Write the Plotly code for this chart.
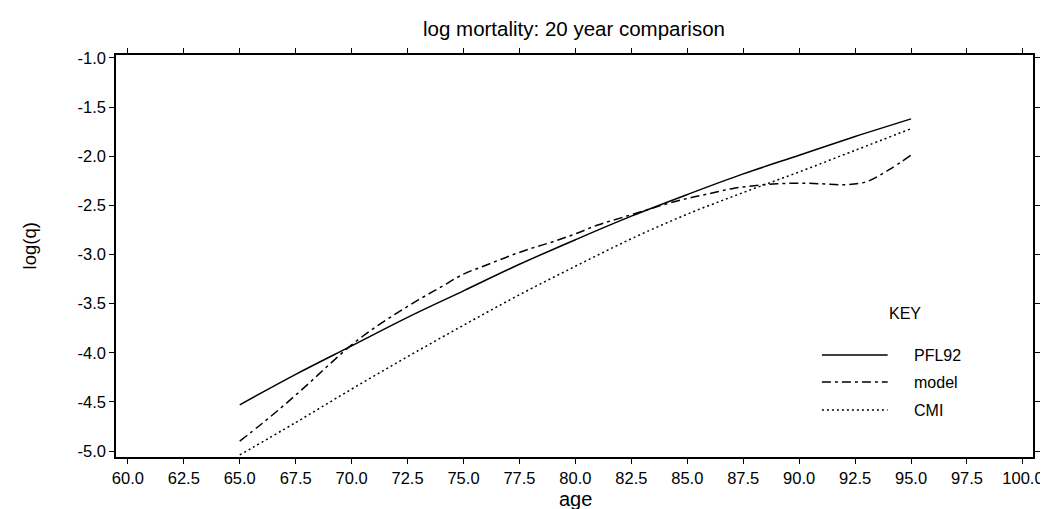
import plotly.graph_objects as go

# ---- data ----
ages_pfl = [65, 67.5, 70, 72.5, 75, 77.5, 80, 82.5, 85, 87.5, 90, 92.5, 95]
pfl92 = [-4.53, -4.22, -3.93, -3.64, -3.37, -3.10, -2.85, -2.61, -2.39, -2.18, -1.99, -1.80, -1.62]

ages_model = [65, 66, 67, 68, 69, 70, 71, 72, 73, 74, 75, 76, 77, 78, 79, 80,
              81, 82, 83, 84, 85, 86, 87, 88, 89, 90, 91, 92, 93, 94, 95]
model = [-4.90, -4.72, -4.53, -4.33, -4.12, -3.92, -3.75, -3.60, -3.46, -3.33, -3.20,
         -3.11, -3.02, -2.94, -2.87, -2.79, -2.70, -2.63, -2.56, -2.49, -2.43, -2.38,
         -2.33, -2.30, -2.28, -2.275, -2.28, -2.29, -2.26, -2.14, -1.99]

ages_cmi = [65, 67.5, 70, 72.5, 75, 77.5, 80, 82.5, 85, 87.5, 90, 92.5, 95]
cmi = [-5.04, -4.71, -4.37, -4.04, -3.72, -3.41, -3.12, -2.84, -2.59, -2.37, -2.16, -1.94, -1.72]

x_tickvals = [60 + 2.5 * i for i in range(17)]
x_ticktext = ["%.1f" % v for v in x_tickvals]
y_tickvals = [-5.0, -4.5, -4.0, -3.5, -3.0, -2.5, -2.0, -1.5, -1.0]
y_ticktext = ["%.1f" % v for v in y_tickvals]

series_names = ["PFL92", "model", "CMI"]

FONT = "Liberation Sans, Arial, Helvetica, sans-serif"
dashes = ["solid", "9px,4px,3px,4px", "2px,3px"]

fig = go.Figure()
fig.add_trace(go.Scatter(x=ages_pfl, y=pfl92, mode="lines", name=series_names[0],
                         line=dict(color="black", width=1.5, dash=dashes[0], shape="spline"),
                         showlegend=False))
fig.add_trace(go.Scatter(x=ages_model, y=model, mode="lines", name=series_names[1],
                         line=dict(color="black", width=1.5, dash=dashes[1], shape="spline"),
                         showlegend=False))
fig.add_trace(go.Scatter(x=ages_cmi, y=cmi, mode="lines", name=series_names[2],
                         line=dict(color="black", width=1.5, dash=dashes[2], shape="spline"),
                         showlegend=False))

# plot area in pixels
L, R, T, B = 108, 1029, 47, 449
W, H = 1048, 509
def px(xp):
    return (xp - L) / (R - L)
def py(yp):
    return (B - yp) / (B - T)

shapes = []
annotations = []
# legend key
annotations.append(dict(text="KEY", x=px(900), y=py(305), xref="paper", yref="paper",
                        showarrow=False, font=dict(family=FONT, size=16, color="black"),
                        xanchor="center", yanchor="middle"))
rows_y = [347, 374, 402]
for name, dash, ry in zip(series_names, dashes, rows_y):
    shapes.append(dict(type="line", xref="paper", yref="paper",
                       x0=px(817), x1=px(883), y0=py(ry), y1=py(ry),
                       line=dict(color="black", width=1.5, dash=dash)))
    annotations.append(dict(text=name, x=px(907), y=py(ry), xref="paper", yref="paper",
                            showarrow=False, font=dict(family=FONT, size=16, color="black"),
                            xanchor="left", yanchor="middle"))

# titles
annotations.append(dict(text="log mortality: 20 year comparison", x=px(568), y=py(21),
                        xref="paper", yref="paper", showarrow=False,
                        font=dict(family=FONT, size=20.5, color="black"),
                        xanchor="center", yanchor="middle"))
annotations.append(dict(text="age", x=px(570), y=py(491), xref="paper", yref="paper",
                        showarrow=False, font=dict(family=FONT, size=20, color="black"),
                        xanchor="center", yanchor="middle"))
annotations.append(dict(text="log(q)", x=px(21), y=py(238), xref="paper", yref="paper",
                        showarrow=False, textangle=-90,
                        font=dict(family=FONT, size=18.5, color="black"),
                        xanchor="center", yanchor="middle"))

fig.update_layout(
    width=W, height=H,
    margin=dict(l=L, r=W - R, t=T, b=H - B, pad=0),
    paper_bgcolor="white", plot_bgcolor="white",
    font=dict(family=FONT, size=16, color="black"),
    shapes=shapes, annotations=annotations,
    showlegend=False,
)
fig.update_xaxes(range=[59.47, 100.45], tickvals=x_tickvals, ticktext=x_ticktext,
                 showgrid=False, zeroline=False, showline=True, linecolor="black",
                 linewidth=1.5, mirror="ticks", ticks="outside", ticklen=5,
                 tickwidth=1.2, tickcolor="black",
                 tickfont=dict(family=FONT, size=16.5, color="black"))
fig.update_yaxes(range=[-5.061, -0.97], tickvals=y_tickvals, ticktext=y_ticktext,
                 showgrid=False, zeroline=False, showline=True, linecolor="black",
                 linewidth=1.5, mirror="ticks", ticks="outside", ticklen=5,
                 tickwidth=1.2, tickcolor="black",
                 tickfont=dict(family=FONT, size=16.5, color="black"))

fig.write_html("out.html")
